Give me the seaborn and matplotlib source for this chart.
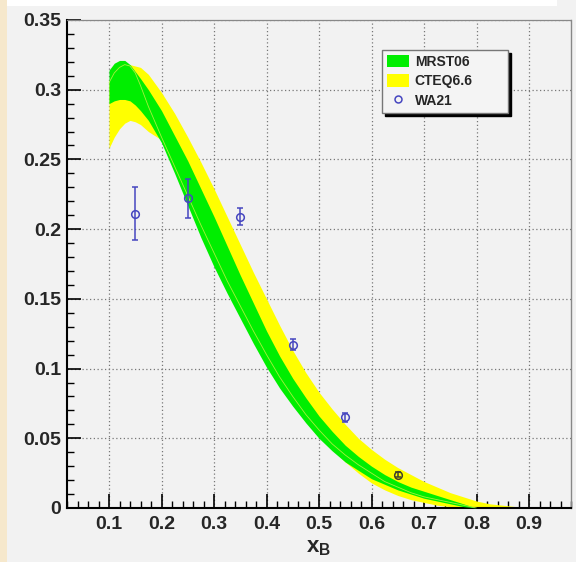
import matplotlib
matplotlib.use("Agg")
import matplotlib.pyplot as plt
import pandas as pd
import seaborn as sns
from matplotlib.lines import Line2D
from matplotlib.patches import Patch, Rectangle
from matplotlib.ticker import MultipleLocator

# band grid in x_B
x_grid = [0.100, 0.110, 0.120, 0.130, 0.140, 0.150, 0.160, 0.175, 0.200, 0.225,
          0.250, 0.275, 0.300, 0.325, 0.350, 0.375, 0.400, 0.425, 0.450, 0.475,
          0.500, 0.525, 0.550, 0.575, 0.600, 0.625, 0.650, 0.675, 0.700, 0.725,
          0.750, 0.775, 0.800, 0.825, 0.850, 0.875, 0.900]

# MRST06 band (green)
mrst_hi = [0.314, 0.319, 0.321, 0.321, 0.318, 0.313, 0.308, 0.300, 0.285, 0.267,
           0.249, 0.229, 0.209, 0.188, 0.167, 0.147, 0.127, 0.109, 0.093, 0.079,
           0.066, 0.055, 0.045, 0.037, 0.030, 0.024, 0.019, 0.015, 0.012, 0.009,
           0.006, 0.003, 0.000, 0.000, 0.000, 0.000, 0.000]
mrst_lo = [0.290, 0.292, 0.293, 0.293, 0.292, 0.289, 0.285, 0.278, 0.262, 0.240,
           0.217, 0.194, 0.173, 0.154, 0.136, 0.118, 0.101, 0.086, 0.073, 0.061,
           0.050, 0.041, 0.033, 0.027, 0.021, 0.017, 0.013, 0.010, 0.007, 0.005,
           0.003, 0.001, 0.000, 0.000, 0.000, 0.000, 0.000]

# CTEQ6.6 band (yellow)
cteq_hi = [0.305, 0.311, 0.315, 0.317, 0.318, 0.317, 0.316, 0.311, 0.298, 0.283,
           0.266, 0.248, 0.229, 0.209, 0.189, 0.169, 0.150, 0.131, 0.113, 0.097,
           0.083, 0.071, 0.060, 0.050, 0.042, 0.035, 0.029, 0.024, 0.019, 0.015,
           0.011, 0.008, 0.005, 0.003, 0.002, 0.001, 0.000]
cteq_lo = [0.258, 0.266, 0.272, 0.276, 0.278, 0.277, 0.275, 0.270, 0.264, 0.243,
           0.220, 0.197, 0.176, 0.157, 0.139, 0.121, 0.104, 0.089, 0.075, 0.063,
           0.052, 0.042, 0.033, 0.025, 0.018, 0.013, 0.009, 0.006, 0.004, 0.002,
           0.001, 0.000, 0.000, 0.000, 0.000, 0.000, 0.000]

# faint central curve (ends at x = 0.8)
central = [0.305, 0.312, 0.316, 0.318, 0.317, 0.312, 0.303, 0.288, 0.266, 0.245,
           0.224, 0.203, 0.183, 0.163, 0.145, 0.127, 0.110, 0.094, 0.080, 0.067,
           0.056, 0.046, 0.038, 0.031, 0.025, 0.019, 0.015, 0.011, 0.008, 0.006,
           0.004, 0.002, 0.000]

# WA21 data
wa21_x = [0.15, 0.25, 0.35, 0.45, 0.55, 0.65]
wa21_y = [0.211, 0.222, 0.209, 0.117, 0.065, 0.024]
wa21_err = [0.019, 0.014, 0.006, 0.004, 0.003, 0.002]

x_ticks = [0.1, 0.2, 0.3, 0.4, 0.5, 0.6, 0.7, 0.8, 0.9]
x_labels = ["0.1", "0.2", "0.3", "0.4", "0.5", "0.6", "0.7", "0.8", "0.9"]
y_ticks = [0, 0.05, 0.1, 0.15, 0.2, 0.25, 0.3, 0.35]
y_labels = ["0", "0.05", "0.1", "0.15", "0.2", "0.25", "0.3", "0.35"]

BG = "#f2f2f2"
GREEN = "#00ee00"
YELLOW = "#ffff00"
BLUE = "#4646c0"

sns.set_style("ticks")
plt.rcParams["font.family"] = ["Liberation Sans", "DejaVu Sans"]
plt.rcParams["font.weight"] = "bold"
plt.rcParams["mathtext.fontset"] = "custom"
plt.rcParams["mathtext.bf"] = "Liberation Sans:bold"
plt.rcParams["mathtext.rm"] = "Liberation Sans:bold"

fig = plt.figure(figsize=(5.76, 5.62), dpi=100, facecolor=BG)
# page strips around the canvas
fig.patches.append(Rectangle((0, 0), 7 / 576, 1, transform=fig.transFigure,
                             facecolor="#f6e8cc", edgecolor="none", zorder=0))
fig.patches.append(Rectangle((7 / 576, 1 - 6 / 562), 550 / 576, 6 / 562, transform=fig.transFigure,
                             facecolor="white", edgecolor="none", zorder=0))

ax = fig.add_axes([67 / 576, 54 / 562, 504 / 576, 488 / 562])
ax.set_facecolor(BG)

ax.fill_between(x_grid, cteq_lo, cteq_hi, color=YELLOW, linewidth=0, zorder=2)
ax.fill_between(x_grid, mrst_lo, mrst_hi, color=GREEN, linewidth=0, zorder=3)

df = pd.DataFrame({"x": x_grid[:len(central)], "y": central})
sns.lineplot(data=df, x="x", y="y", ax=ax, color="#c4f048", linewidth=0.6,
             alpha=0.85, zorder=4)

ax.errorbar(wa21_x[:-1], wa21_y[:-1], yerr=wa21_err[:-1], fmt="o", color=BLUE,
            mfc="none", mec=BLUE, ms=5.5, mew=1.1, elinewidth=1.1, capsize=2, zorder=5)
ax.errorbar(wa21_x[-1:], wa21_y[-1:], yerr=wa21_err[-1:], fmt="o", color="#40402c",
            mfc="none", mec="#40402c", ms=5.5, mew=1.1, elinewidth=1.1, capsize=2, zorder=5)

ax.set_xlim(0.02, 0.98)
ax.set_ylim(0, 0.35)
ax.set_xticks(x_ticks)
ax.set_xticklabels(x_labels, fontsize=14, fontweight="bold")
ax.set_yticks(y_ticks)
ax.set_yticklabels(y_labels, fontsize=14, fontweight="bold")
ax.xaxis.set_minor_locator(MultipleLocator(0.02))
ax.yaxis.set_minor_locator(MultipleLocator(0.01))
ax.tick_params(which="major", direction="in", length=10, width=1.2, color="black")
ax.tick_params(which="minor", direction="in", length=5, width=1.0, color="black")
ax.tick_params(axis="x", which="major", pad=6)
ax.tick_params(axis="y", which="major", pad=4)

ax.grid(True, which="major", color="#777777", linestyle=(0, (1, 2)), linewidth=0.9)
ax.set_axisbelow(True)

for side in ["left", "bottom"]:
    ax.spines[side].set_color("black")
    ax.spines[side].set_linewidth(1.5)
ax.spines["top"].set_color("#888888")
ax.spines["top"].set_linestyle((0, (1, 1)))
ax.spines["top"].set_linewidth(0.9)
ax.spines["right"].set_color("#888888")
ax.spines["right"].set_linewidth(1.0)

ax.set_xlabel(r"$\mathbf{x_B}$", fontsize=16, labelpad=3)
ax.set_ylabel("")

handles = [Patch(facecolor=GREEN, edgecolor="none"),
           Patch(facecolor=YELLOW, edgecolor="none"),
           Line2D([], [], marker="o", linestyle="none", mfc="none", mec=BLUE, ms=5, mew=1.1)]
leg = ax.legend(handles, ["MRST06", "CTEQ6.6", "WA21"],
                loc="upper left", mode="expand",
                bbox_to_anchor=(382 / 576, (562 - 111) / 562, 126 / 576, 61 / 562),
                bbox_transform=fig.transFigure, borderaxespad=0,
                prop={"weight": "bold", "size": 10}, frameon=True, fancybox=False,
                edgecolor="#777777", facecolor="#f4f4f4", framealpha=1,
                shadow={"color": "black", "alpha": 1, "ox": 2.5, "oy": -2.5},
                handlelength=1.6, handleheight=1.0, labelspacing=0.4,
                handletextpad=0.4, borderpad=0.35)
leg.get_frame().set_linewidth(1.0)

fig.savefig("out.png", dpi=100, facecolor=BG)
plt.close(fig)
